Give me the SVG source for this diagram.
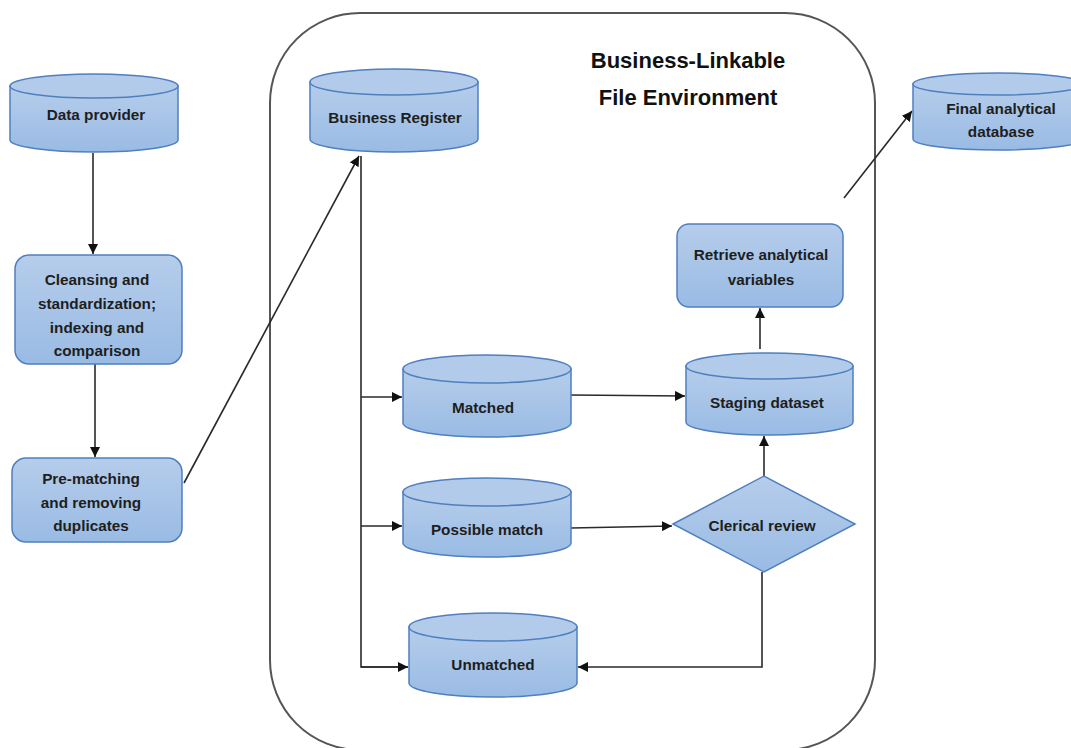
<svg xmlns="http://www.w3.org/2000/svg" width="1071" height="748" viewBox="0 0 1071 748">
<style>
.sh{fill:url(#g);stroke:#4f7fbf;stroke-width:1.5}
.top{fill:#b2cbea;stroke:#4f7fbf;stroke-width:1.5}
.t{font-family:"Liberation Sans",Arial,sans-serif;font-weight:bold;font-size:15.3px;fill:#1e1e1e;text-anchor:middle}
.title{font-family:"Liberation Sans",Arial,sans-serif;font-weight:bold;font-size:22px;fill:#111;text-anchor:middle}
.c{fill:none;stroke:#2a2a2a;stroke-width:1.6}
</style>
<defs>
<linearGradient id="g" x1="0" y1="0" x2="0" y2="1">
<stop offset="0" stop-color="#b6cdeb"/>
<stop offset="1" stop-color="#99bbe4"/>
</linearGradient>
<marker id="a" viewBox="0 0 10 10" refX="10" refY="5" markerWidth="10" markerHeight="10" markerUnits="userSpaceOnUse" orient="auto">
<path d="M0,0 L10,5 L0,10 Z" fill="#111"/>
</marker>
</defs>
<rect width="1071" height="748" fill="#fff"/>
<g id="env">
<rect x="270" y="13" width="605" height="737" rx="90" ry="90" fill="none" stroke="#555" stroke-width="2"/>
<text class="title" x="688" y="68">Business-Linkable</text>
<text class="title" x="688" y="105">File Environment</text>
</g>
<g id="connectors">
<path class="c" d="M93,153 V254" marker-end="url(#a)"/>
<path class="c" d="M95,364 V457" marker-end="url(#a)"/>
<path class="c" d="M184,483 L359,156" marker-end="url(#a)"/>
<path class="c" d="M361,156 V667 H408"/>
<path class="c" d="M361,667 H408" marker-end="url(#a)"/>
<path class="c" d="M361,397 H402" marker-end="url(#a)"/>
<path class="c" d="M361,526 H402" marker-end="url(#a)"/>
<path class="c" d="M571,395 L685,396" marker-end="url(#a)"/>
<path class="c" d="M571,528 L672,526" marker-end="url(#a)"/>
<path class="c" d="M764,476 V436" marker-end="url(#a)"/>
<path class="c" d="M760,349 V308" marker-end="url(#a)"/>
<path class="c" d="M844,198 L912,111" marker-end="url(#a)"/>
<path class="c" d="M762,572 V667 H578" marker-end="url(#a)"/>
</g>
<g id="data-provider">
<path class="sh" d="M10,86 V140 A84,12 0 0 0 178,140 V86 Z"/>
<ellipse class="top" cx="94" cy="86" rx="84" ry="12"/>
<text class="t" x="96" y="120">Data provider</text>
</g>
<g id="cleansing">
<rect class="sh" x="15" y="255" width="167" height="109" rx="14"/>
<text class="t" x="97" y="285">Cleansing and</text>
<text class="t" x="97" y="309">standardization;</text>
<text class="t" x="97" y="333">indexing and</text>
<text class="t" x="97" y="356">comparison</text>
</g>
<g id="pre-matching">
<rect class="sh" x="12" y="458" width="170" height="84" rx="14"/>
<text class="t" x="91" y="484">Pre-matching</text>
<text class="t" x="91" y="508">and removing</text>
<text class="t" x="91" y="531">duplicates</text>
</g>
<g id="business-register">
<path class="sh" d="M310,82 V139 A84,13 0 0 0 478,139 V82 Z"/>
<ellipse class="top" cx="394" cy="82" rx="84" ry="13"/>
<text class="t" x="395" y="123">Business Register</text>
</g>
<g id="final-db">
<path class="sh" d="M913,84 V139 A85,11 0 0 0 1083,139 V84 Z"/>
<ellipse class="top" cx="998" cy="84" rx="85" ry="11"/>
<text class="t" x="1001" y="114">Final analytical</text>
<text class="t" x="1001" y="137">database</text>
</g>
<g id="retrieve">
<rect class="sh" x="677" y="224" width="166" height="83" rx="12"/>
<text class="t" x="761" y="260">Retrieve analytical</text>
<text class="t" x="761" y="285">variables</text>
</g>
<g id="matched">
<path class="sh" d="M403,369 V423 A84,14 0 0 0 571,423 V369 Z"/>
<ellipse class="top" cx="487" cy="369" rx="84" ry="14"/>
<text class="t" x="483" y="413">Matched</text>
</g>
<g id="possible-match">
<path class="sh" d="M403,492 V543 A84,14 0 0 0 571,543 V492 Z"/>
<ellipse class="top" cx="487" cy="492" rx="84" ry="14"/>
<text class="t" x="487" y="535">Possible match</text>
</g>
<g id="unmatched">
<path class="sh" d="M409,627 V683 A84,14 0 0 0 577,683 V627 Z"/>
<ellipse class="top" cx="493" cy="627" rx="84" ry="14"/>
<text class="t" x="493" y="670">Unmatched</text>
</g>
<g id="staging">
<path class="sh" d="M686,366 V422 A83.5,13 0 0 0 853,422 V366 Z"/>
<ellipse class="top" cx="769.5" cy="366" rx="83.5" ry="13"/>
<text class="t" x="767" y="408">Staging dataset</text>
</g>
<g id="clerical-review">
<polygon class="sh" points="673,524 764,476 855,524 764,572"/>
<text class="t" x="762" y="531">Clerical review</text>
</g>
</svg>
